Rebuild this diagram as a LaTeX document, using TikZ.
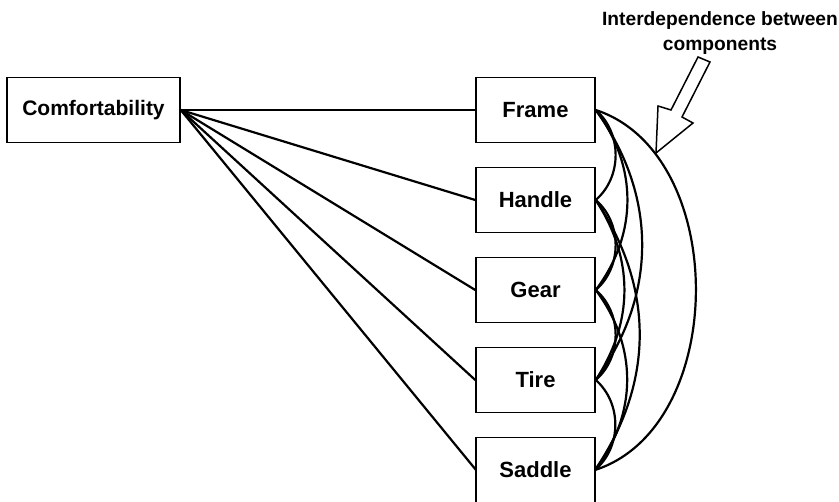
\documentclass[tikz,border=0pt]{standalone}
\usepackage{fontspec}
\setmainfont{Liberation Sans}
\begin{document}
\begin{tikzpicture}[x=0.5pt,y=-0.5pt,
  box/.style={draw, line width=0.75pt, minimum width=59.5pt, minimum height=32.5pt, inner sep=0pt, font=\fontsize{11}{13}\selectfont\bfseries},
  link/.style={line width=1.1pt},
  dep/.style={line width=1.1pt}]
\useasboundingbox (0,0) rectangle (839,502);
\node[box, minimum width=86.5pt, font=\fontsize{10.5}{13}\selectfont\bfseries] (C) at (93.5,110) {Comfortability};
\node[box] (F) at (535.5,110) {Frame};
\node[box] (H) at (535.5,200) {Handle};
\node[box] (G) at (535.5,290) {Gear};
\node[box] (T) at (535.5,380) {Tire};
\node[box, minimum height=35pt] (S0) at (535.5,472.5) {};
\node[font=\fontsize{11}{13}\selectfont\bfseries, inner sep=0pt] (S) at (535.5,470) {Saddle};
\coordinate (Se) at (595,470);
\coordinate (Sw) at (476,470);
\foreach \n in {F,H,G,T} \draw[link] (C.east) -- (\n.west);
\draw[link] (C.east) -- (Sw);
% adjacent
\draw[dep] (F.east) to[bend left=49] (H.east);
\draw[dep] (H.east) to[bend left=49] (G.east);
\draw[dep] (G.east) to[bend left=49] (T.east);
\draw[dep] (T.east) to[bend left=49] (Se);
% distance 2
\draw[dep] (F.east) to[bend left=37] (G.east);
\draw[dep] (H.east) to[bend left=33] (T.east);
\draw[dep] (G.east) to[bend left=37] (Se);
% distance 3
\draw[dep] (F.east) to[bend left=36] (T.east);
\draw[dep] (H.east) to[bend left=34] (Se);
% distance 4
\draw[dep] (F.east) to[bend left=72] (Se);
% arrow
\draw[line width=0.75pt, fill=white] (656,153) -- (658,106) -- (671,110) -- (698,57) -- (710,62) -- (682,117) -- (693,123) -- cycle;
\node[align=center, font=\fontsize{9.6}{12.5}\selectfont\bfseries, inner sep=0pt] (L) at (720,33) {Interdependence between\\components};
\end{tikzpicture}
\end{document}
